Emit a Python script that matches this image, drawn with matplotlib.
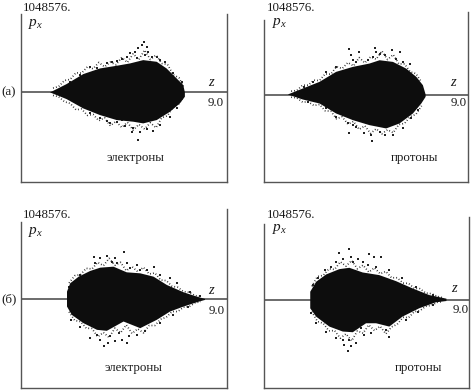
import matplotlib
matplotlib.use("Agg")
import matplotlib.pyplot as plt

plt.rcParams['font.family'] = ['Liberation Serif', 'DejaVu Serif']
plt.rcParams['mathtext.fontset'] = 'custom'
plt.rcParams['mathtext.it'] = 'Liberation Serif:italic'
plt.rcParams['mathtext.rm'] = 'Liberation Serif'

W, H = 471, 390
TOP_LABEL = "1048576."
Z_MAX = 9.0
Z_LABEL = "9.0"
SPECIES = ["электроны", "протоны", "электроны", "протоны"]
ROW_LABELS = ["(а)", "(б)"]

# --- panel (а) electrons: z and p (relative units) of the dense cloud, its rough edge, stray dots
AE_Z_UP = [1.27, 1.99, 2.72, 3.45, 4.18, 4.76, 5.34, 5.93, 6.36, 6.80, 7.09, 7.16]
AE_P_UP = [0, 25, 55, 72, 80, 87, 97, 92, 72, 42, 22, 0]
AE_Z_LO = [1.27, 1.99, 2.72, 3.45, 4.18, 4.91, 5.34, 5.93, 6.51, 6.94, 7.16]
AE_P_LO = [0, -20, -48, -68, -83, -88, -93, -83, -58, -33, -13]
AE_EDGE_Z = [1.4, 1.65, 1.9, 2.15, 2.4, 2.65, 2.9, 3.15, 3.4, 3.65, 3.9, 4.15,
             4.4, 4.65, 4.9, 5.15, 5.4, 5.65, 5.9, 6.15, 6.4, 6.65, 6.9, 7.1]
AE_EDGE_UP = [13, 18, 36, 39, 59, 58, 77, 71, 90, 77, 91, 83,
              105, 90, 116, 99, 127, 99, 112, 87, 84, 53, 44, 17]
AE_EDGE_LO = [-9, -13, -28, -33, -52, -50, -69, -66, -85, -76, -100, -87,
              -105, -90, -113, -96, -110, -91, -106, -76, -70, -43, -34, -14]
AE_DOT_Z = [5.37, 5.27, 5.49, 5.13, 4.76, 4.62, 4.18, 3.74, 3.01, 2.58, 2.14, 5.56, 5.93, 6.29,
            6.65, 7.02, 4.98, 5.42, 4.40, 3.96, 3.31, 5.05, 5.71, 6.07,
            5.10, 4.83, 5.20, 5.78, 6.07, 3.89, 4.18, 4.54, 3.45, 3.01, 2.58, 6.51, 6.80, 4.91,
            5.49, 4.40, 3.74]
AE_DOT_P = [150, 142, 137, 132, 117, 107, 95, 87, 77, 52, 32, 122, 107, 92,
            57, 32, 122, 112, 99, 92, 72, 102, 107, 97,
            -143, -118, -118, -115, -98, -93, -88, -101, -78, -63, -38, -73, -48, -108,
            -111, -83, -85]

# --- panel (а) protons
AP_Z_UP = [1.05, 1.71, 2.45, 3.18, 3.92, 4.65, 5.10, 5.69, 6.27, 6.72, 7.01, 7.13]
AP_P_UP = [0, 18, 38, 68, 83, 93, 103, 98, 78, 53, 28, 0]
AP_Z_LO = [1.05, 1.71, 2.45, 3.18, 3.92, 4.65, 5.39, 5.98, 6.57, 6.94, 7.13]
AP_P_LO = [0, -15, -27, -57, -77, -92, -102, -87, -57, -27, -7]
AP_EDGE_Z = [1.2, 1.45, 1.7, 1.95, 2.2, 2.45, 2.7, 2.95, 3.2, 3.45, 3.7, 3.95,
             4.2, 4.45, 4.7, 4.95, 5.2, 5.45, 5.7, 5.95, 6.2, 6.45, 6.7, 6.95]
AP_EDGE_UP = [10, 12, 28, 28, 43, 42, 62, 61, 84, 78, 96, 86,
              111, 95, 113, 106, 131, 105, 120, 92, 92, 68, 63, 37]
AP_EDGE_LO = [-8, -10, -23, -22, -33, -30, -49, -50, -73, -67, -89, -81,
              -105, -94, -117, -103, -118, -106, -115, -90, -87, -66, -60, -34]
AP_DOT_Z = [3.77, 4.21, 3.84, 4.88, 4.92, 5.10, 5.63, 5.98, 4.58, 4.07, 3.92, 5.32, 6.13, 6.42,
            3.18, 2.74, 2.15, 1.78, 4.80, 5.83,
            4.77, 4.73, 5.32, 4.43, 3.73, 3.70, 3.18, 4.07, 5.69, 6.13, 6.50, 6.79, 5.10, 2.74,
            1.93, 3.92]
AP_DOT_P = [136, 128, 118, 141, 128, 123, 133, 128, 103, 98, 103, 118, 98, 93,
            83, 68, 38, 23, 113, 108,
            -139, -122, -122, -117, -115, -87, -67, -97, -122, -102, -72, -47, -112, -42,
            -22, -92]

# --- panel (б) electrons
BE_Z_UP = [2.01, 2.15, 2.52, 3.02, 3.46, 4.04, 4.62, 5.21, 5.79, 6.37, 7.10, 7.68, 8.04]
BE_P_UP = [22, 47, 67, 84, 94, 97, 80, 77, 67, 42, 20, 7, 0]
BE_Z_LO = [2.01, 2.22, 2.73, 3.32, 3.75, 4.48, 5.21, 5.93, 6.51, 7.10, 7.68, 8.04]
BE_P_LO = [-23, -48, -73, -93, -96, -68, -88, -63, -38, -23, -10, -3]
BE_EDGE_Z = [2.1, 2.35, 2.6, 2.85, 3.1, 3.35, 3.6, 3.85, 4.1, 4.35, 4.6, 4.85,
             5.1, 5.35, 5.6, 5.85, 6.1, 6.35, 6.6, 6.85, 7.1, 7.35, 7.6, 7.85]
BE_EDGE_UP = [48, 70, 73, 92, 90, 110, 100, 122, 101, 110, 85, 97,
              82, 95, 75, 78, 57, 55, 38, 35, 22, 20, 10, 7]
BE_EDGE_LO = [-39, -65, -68, -88, -89, -114, -101, -116, -88, -102, -78, -104,
              -90, -102, -80, -80, -61, -55, -38, -38, -25, -23, -12, -8]
BE_DOT_Z = [4.48, 3.75, 3.17, 3.46, 4.11, 4.19, 3.97, 4.62, 5.06, 5.79, 5.50, 6.08, 6.51, 6.80,
            7.39, 2.59, 2.37, 2.08, 3.24, 4.77, 5.21, 7.82,
            3.61, 3.82, 3.46, 3.02, 4.11, 4.41, 4.70, 5.06, 4.26, 3.32, 2.59, 2.18, 5.42, 6.08,
            6.66, 7.31, 3.90, 4.65]
BE_DOT_P = [142, 129, 127, 122, 122, 107, 112, 107, 102, 97, 87, 72, 62, 47,
            22, 72, 52, 37, 107, 92, 87, 9,
            -143, -133, -123, -118, -128, -123, -113, -108, -103, -108, -83, -63, -98, -73,
            -48, -23, -113, -133]

# --- panel (б) protons
BP_Z_UP = [2.03, 2.29, 2.73, 3.31, 3.75, 4.33, 5.06, 5.79, 6.52, 7.25, 8.01]
BP_P_UP = [24, 54, 76, 92, 96, 82, 74, 56, 34, 14, 3]
BP_Z_LO = [2.03, 2.29, 2.87, 3.46, 3.90, 4.48, 4.92, 5.50, 6.08, 6.81, 7.54, 8.01]
BP_P_LO = [-26, -51, -81, -96, -98, -71, -71, -81, -51, -26, -8, -4]
BP_EDGE_Z = [2.1, 2.35, 2.6, 2.85, 3.1, 3.35, 3.6, 3.85, 4.1, 4.35, 4.6, 4.85,
             5.1, 5.35, 5.6, 5.85, 6.1, 6.35, 6.6, 6.85, 7.1, 7.35, 7.6, 7.85]
BP_EDGE_UP = [40, 70, 73, 93, 91, 114, 101, 118, 93, 104, 83, 96,
              78, 85, 66, 66, 50, 49, 34, 33, 20, 18, 10, 6]
BP_EDGE_LO = [-36, -66, -71, -94, -93, -116, -103, -124, -94, -101, -76, -93,
              -80, -103, -82, -74, -53, -54, -36, -33, -20, -17, -8, -6]
BP_DOT_Z = [3.71, 3.31, 3.82, 3.46, 4.11, 4.62, 4.84, 5.14, 4.33, 3.17, 2.95, 2.66, 2.36, 2.14,
            4.92, 5.50, 6.08, 6.67, 3.90, 4.55, 7.40,
            3.68, 3.53, 3.82, 4.04, 3.75, 3.17, 3.46, 4.41, 4.70, 5.50, 5.35, 2.73, 2.29, 2.07,
            6.23, 6.74, 4.26, 7.40]
BP_DOT_P = [154, 142, 129, 124, 124, 139, 129, 129, 114, 114, 99, 89, 64, 44,
            99, 89, 64, 39, 114, 104, 14,
            -156, -136, -141, -131, -121, -116, -121, -106, -101, -111, -91, -96, -71, -41,
            -61, -36, -86, -16]

CLOUDS = [
    (AE_Z_UP, AE_P_UP, AE_Z_LO, AE_P_LO, AE_EDGE_Z, AE_EDGE_UP, AE_EDGE_LO, AE_DOT_Z, AE_DOT_P),
    (AP_Z_UP, AP_P_UP, AP_Z_LO, AP_P_LO, AP_EDGE_Z, AP_EDGE_UP, AP_EDGE_LO, AP_DOT_Z, AP_DOT_P),
    (BE_Z_UP, BE_P_UP, BE_Z_LO, BE_P_LO, BE_EDGE_Z, BE_EDGE_UP, BE_EDGE_LO, BE_DOT_Z, BE_DOT_P),
    (BP_Z_UP, BP_P_UP, BP_Z_LO, BP_P_LO, BP_EDGE_Z, BP_EDGE_UP, BP_EDGE_LO, BP_DOT_Z, BP_DOT_P),
]

# layout: px left, right, top(right spine), bottom, top of left spine (relative p), p limits
FRAMES = [
    (21, 227, 13.5, 182, 237, -269, 237),
    (264, 468, 12, 182, 223, -263, 248),
    (21, 227, 208.5, 388, 232, -268, 272),
    (264, 469, 217, 388, 229, -266, 249),
]
# text pixel anchors: top label x,y ; p_x x,y ; z x,y ; 9.0 right x,y ; species cx,y
TEXTS = [
    (23, 8, 28, 24, 211, 83, 224, 103, 135, 158),
    (267, 8, 272, 23, 453, 83, 467, 103, 414, 158),
    (23, 215, 28, 232, 211, 290, 225, 311, 133, 368),
    (267, 215, 272, 229, 454, 289, 469, 310, 418, 368),
]

fig = plt.figure(figsize=(W / 100, H / 100), dpi=100, facecolor="white")


def put(x, y, s, **kw):
    kw.setdefault("va", "center")
    fig.text(x / W, 1 - y / H, s, color="#1a1a1a", **kw)


for i in range(4):
    l, r, t, b, ltop, p0, p1 = FRAMES[i]
    ax = fig.add_axes([l / W, 1 - b / H, (r - l) / W, (b - t) / H])
    ax.set_xlim(0, Z_MAX)
    ax.set_ylim(p0, p1)
    ax.set_xticks([])
    ax.set_yticks([])
    ax.patch.set_alpha(0)
    ax.spines["top"].set_visible(False)
    ax.spines["left"].set_bounds(p0, ltop)
    for s in ("left", "right", "bottom"):
        ax.spines[s].set_color("#555555")
        ax.spines[s].set_linewidth(1.0)
    ax.axhline(0, color="#444444", lw=1.1, zorder=1)

    zu, pu, zl, pl, ez, eu, el, dz, dp = CLOUDS[i]
    ax.fill(list(zu) + list(zl)[::-1], list(pu) + list(pl)[::-1],
            color="#0d0d0d", lw=0, zorder=3)
    for edge in (eu, el):
        ax.plot(ez, edge, color="#222222", lw=1.2, ls=(0, (0.5, 1.3)), zorder=2)
    ax.scatter(dz, dp, s=1.1, marker="s", color="#222222", linewidths=0, zorder=2)

    tx, ty, px, py, zx, zy, nx, ny, sx, sy = TEXTS[i]
    put(tx, ty, TOP_LABEL, fontsize=9.3, ha="left")
    put(px, py, r"$p_x$", fontsize=11, ha="left")
    put(zx, zy, "z", fontsize=10.5, ha="center", style="italic")
    put(nx, ny, Z_LABEL, fontsize=9.3, ha="right")
    put(sx, sy, SPECIES[i], fontsize=9.3, ha="center")

put(1, 92, ROW_LABELS[0], fontsize=9.3, ha="left")
put(1, 299, ROW_LABELS[1], fontsize=9.3, ha="left")

fig.savefig("out.png", dpi=100)
